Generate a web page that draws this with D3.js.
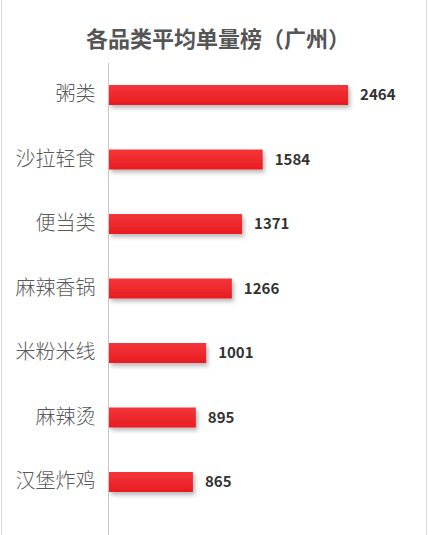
<!DOCTYPE html>
<html>
<head>
<meta charset="utf-8">
<script src="https://cdn.jsdelivr.net/npm/d3@7"></script>
<style>
  html, body { margin: 0; padding: 0; background: #fff; }
  svg { display: block; }
</style>
</head>
<body>
<div id="chart"></div>
<script>
// chart data
const categories = ["粥类", "沙拉轻食", "便当类", "麻辣香锅", "米粉米线", "麻辣烫", "汉堡炸鸡"];
const values = [2464, 1584, 1371, 1266, 1001, 895, 865];
const title = "各品类平均单量榜（广州）";

const width = 428;
const height = 535;

const svg = d3.select("#chart").append("svg")
    .attr("width", width)
    .attr("height", height)
    .style("font-family", "'Noto Sans CJK SC', 'Noto Sans', sans-serif");

// soft shadow under bars
const defs = svg.append("defs");
defs.append("filter")
    .attr("id", "shadow")
    .attr("x", "-10%").attr("y", "-30%")
    .attr("width", "130%").attr("height", "190%")
    .append("feDropShadow")
    .attr("dx", 2).attr("dy", 3)
    .attr("stdDeviation", 2)
    .attr("flood-color", "#000")
    .attr("flood-opacity", 0.28);

const grad = defs.append("linearGradient")
    .attr("id", "barFill")
    .attr("x1", 0).attr("y1", 0).attr("x2", 0).attr("y2", 1);
grad.append("stop").attr("offset", "0%").attr("stop-color", "#f4363a");
grad.append("stop").attr("offset", "100%").attr("stop-color", "#e81c22");

// frame edges
svg.append("line")
    .attr("x1", 1.5).attr("x2", 1.5).attr("y1", 0).attr("y2", height)
    .style("stroke", "#d9d9d9");
svg.append("line")
    .attr("x1", width - 1.5).attr("x2", width - 1.5).attr("y1", 0).attr("y2", height)
    .style("stroke", "#d9d9d9");

svg.append("text")
    .attr("x", 218)
    .attr("y", 47)
    .attr("text-anchor", "middle")
    .style("font-size", "22px")
    .style("font-weight", "bold")
    .style("fill", "#555")
    .text(title);

const x = d3.scaleLinear().domain([0, 2500]).range([109, 351.6]);
const y = d3.scaleBand()
    .domain(categories)
    .range([62.75, 62.75 + 64.5 * categories.length])
    .paddingInner(0.69)
    .paddingOuter(0.345);

// category axis
const yAxis = svg.append("g")
    .attr("transform", "translate(108.5,0)")
    .call(d3.axisLeft(y).tickSize(0).tickPadding(13));
yAxis.select(".domain").remove();
yAxis.selectAll("text")
    .style("font-size", "20px")
    .style("font-weight", 300)
    .style("fill", "#595959")
    .style("font-family", "'Noto Sans CJK SC', sans-serif");

svg.append("line")
    .attr("x1", 108.5).attr("x2", 108.5)
    .attr("y1", 63).attr("y2", height)
    .style("stroke", "#c8c8c8");

const data = categories.map((c, i) => ({ name: c, value: values[i] }));

svg.append("g")
    .selectAll("rect")
    .data(data)
    .enter().append("rect")
    .attr("x", x(0))
    .attr("y", d => y(d.name))
    .attr("width", d => x(d.value) - x(0))
    .attr("height", y.bandwidth())
    .attr("fill", "url(#barFill)")
    .attr("filter", "url(#shadow)");

svg.append("g")
    .selectAll("text")
    .data(data)
    .enter().append("text")
    .attr("x", d => x(d.value) + 12)
    .attr("y", d => y(d.name) + y.bandwidth() / 2)
    .attr("dy", "0.35em")
    .style("font-size", "15px")
    .style("font-weight", "bold")
    .style("fill", "#333")
    .text(d => d.value);
</script>
</body>
</html>
